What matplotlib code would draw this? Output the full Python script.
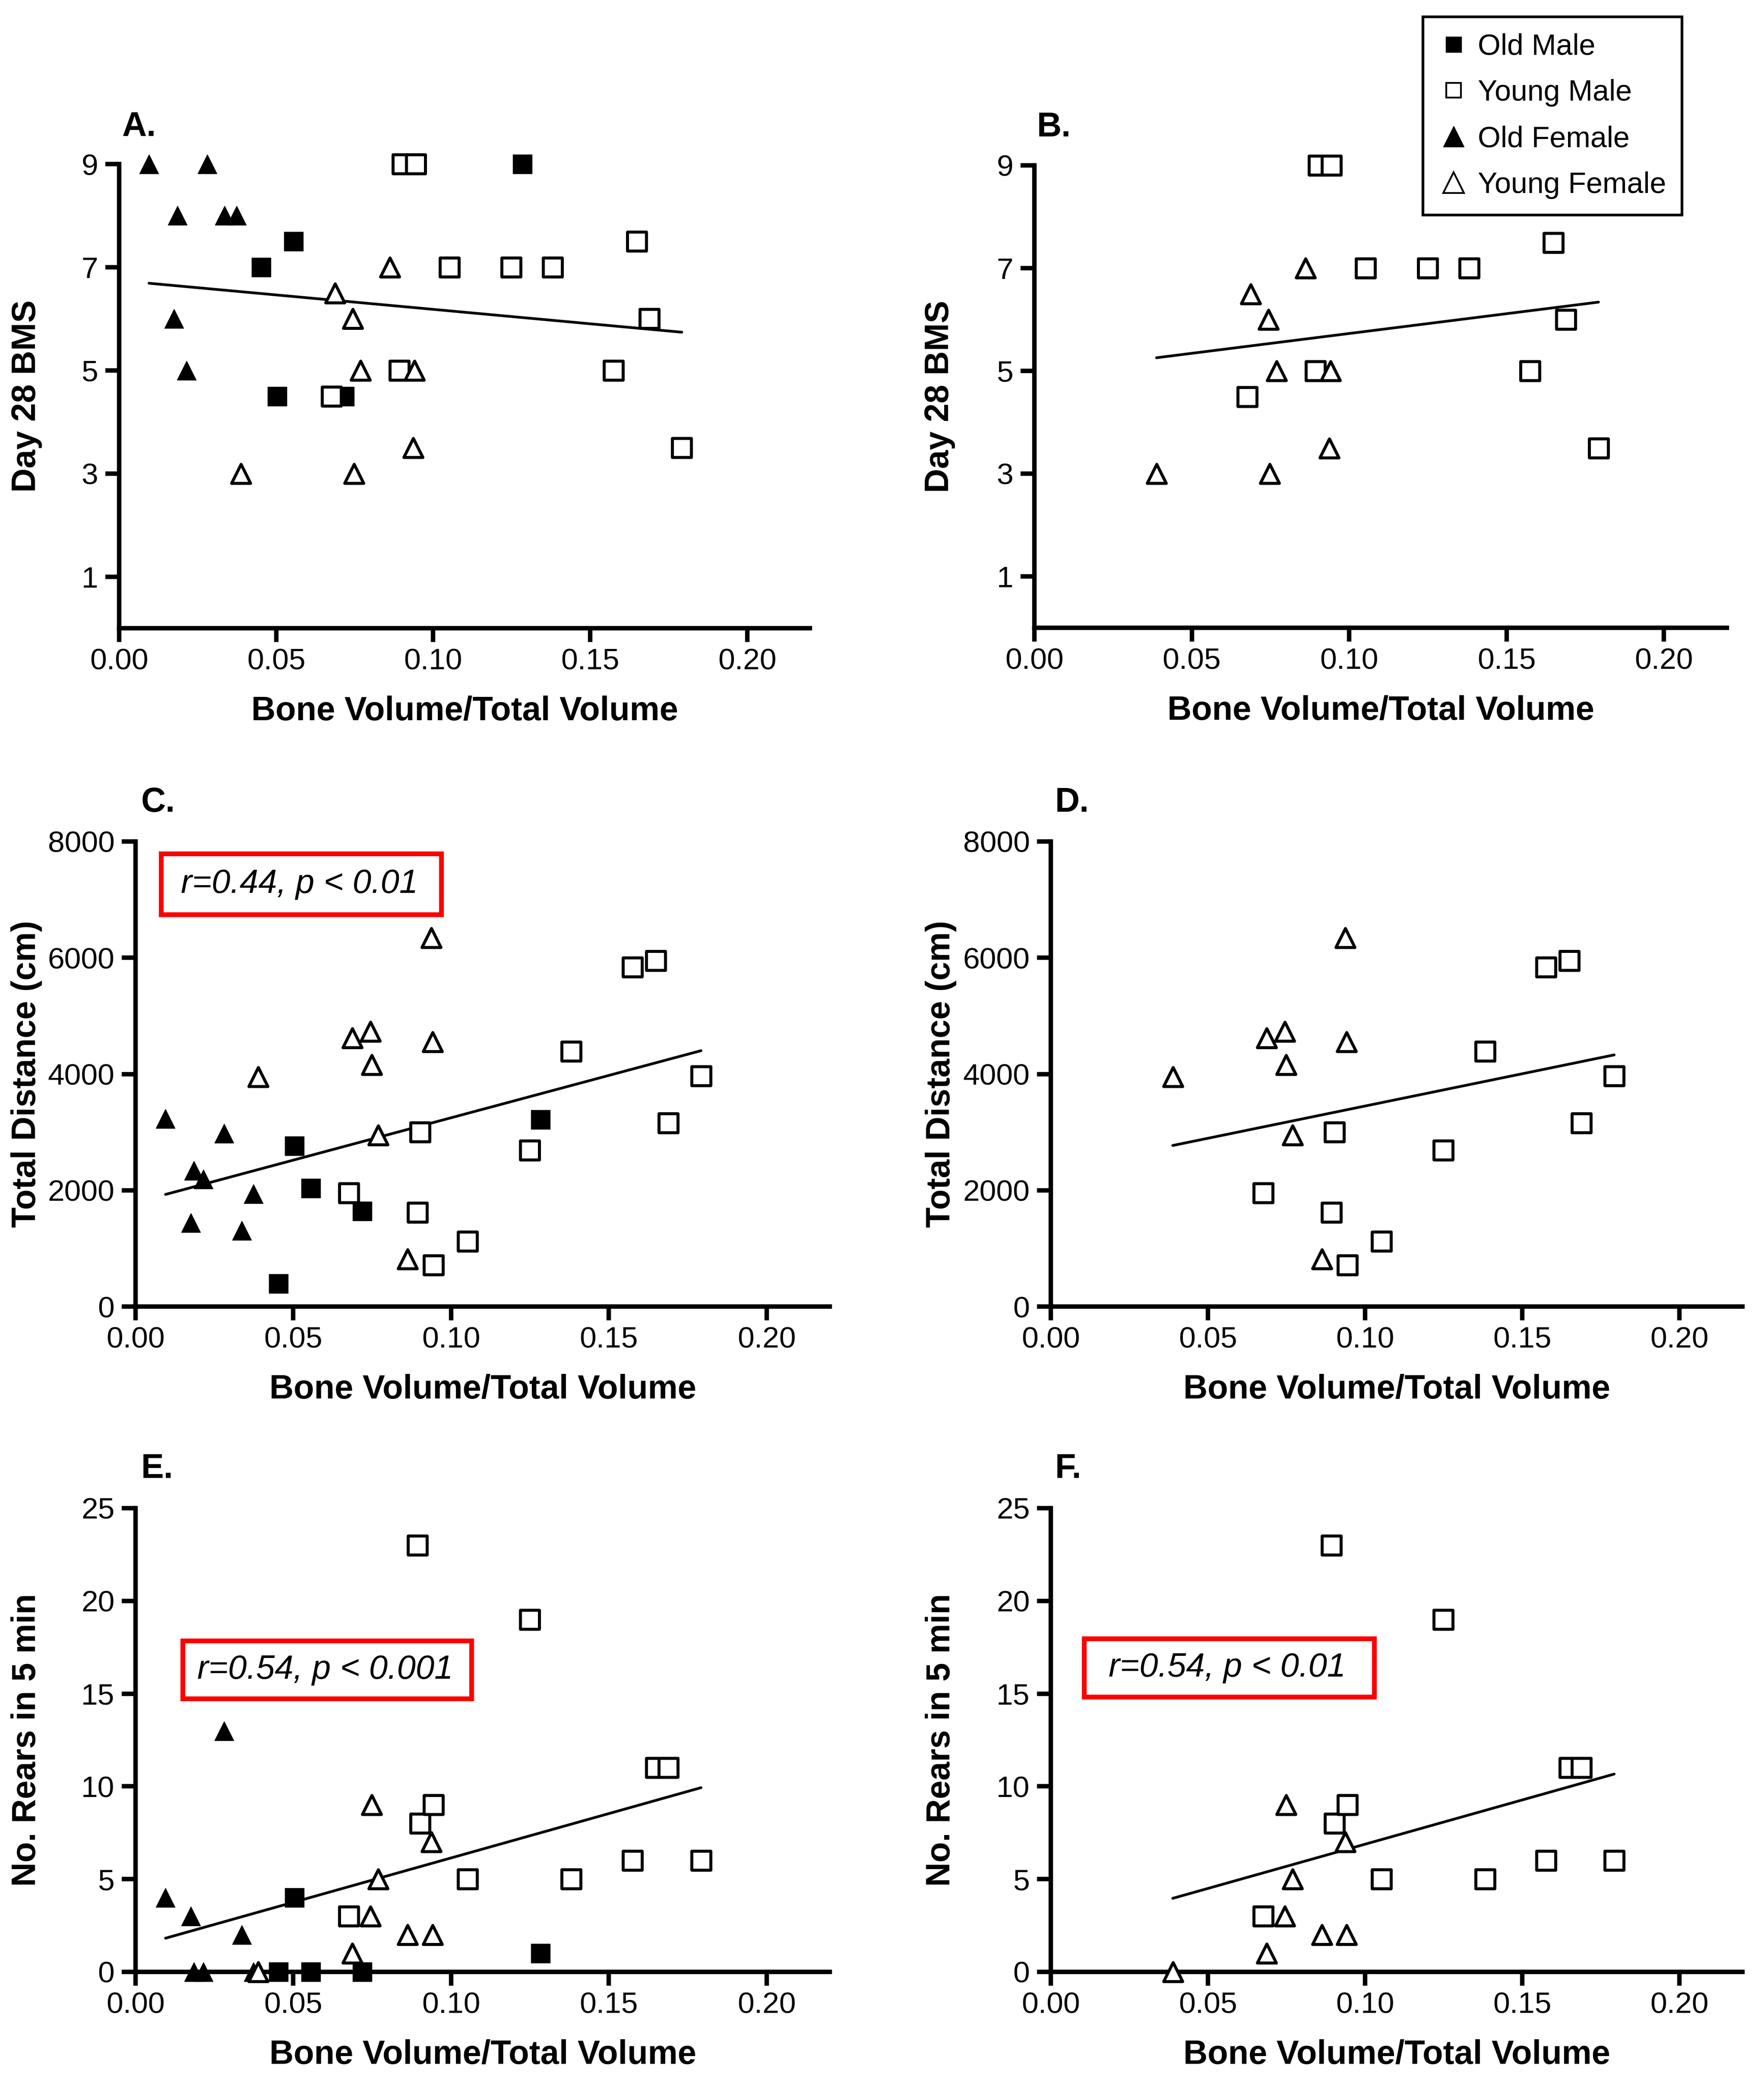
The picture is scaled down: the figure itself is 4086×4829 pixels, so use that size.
import matplotlib
matplotlib.use("Agg")
import matplotlib.pyplot as plt
import numpy as np
from matplotlib.lines import Line2D
from matplotlib.markers import MarkerStyle
from matplotlib.patches import Rectangle
from matplotlib.ticker import FormatStrFormatter

# ---- data ----
# bone volume / total volume for each animal, per group
om_bvtv = [0.0453, 0.0503, 0.0556, 0.0718, 0.1284]
ym_bvtv = [0.0676, 0.0893, 0.0902, 0.0944, 0.1052, 0.1249, 0.1381, 0.1575, 0.1649, 0.1688, 0.1792]
of_bvtv = [0.0095, 0.0175, 0.0185, 0.0215, 0.0281, 0.0336, 0.0374]
yf_bvtv = [0.0388, 0.0687, 0.0744, 0.0748, 0.0769, 0.0862, 0.0937, 0.0941]

# day 28 BMS
om_bms = [7, 4.5, 7.5, 4.5, 9]
ym_bms = [4.5, 5, 9, 9, 7, 7, 7, 5, 7.5, 6, 3.5]
of_bms = [9, 6, 8, 5, 9, 8, 8]
yf_bms = [3, 6.5, 6, 3, 5, 7, 3.5, 5]

# total distance (cm)
om_dist = [393, 2764, 2036, 1643, 3214]
ym_dist = [1950, 1620, 3000, 710, 1120, 2690, 4390, 5840, 5950, 3160, 3970]
of_dist = [3230, 1440, 2340, 2190, 2980, 1310, 1940]
yf_dist = [3950, 4620, 4730, 4160, 2950, 820, 6340, 4550]

# no. rears in 5 min
om_rears = [0, 4, 0, 0, 1]
ym_rears = [3, 23, 8, 9, 5, 19, 5, 6, 11, 11, 6]
of_rears = [4, 3, 0, 0, 13, 2, 0]
yf_rears = [0, 1, 3, 9, 5, 2, 7, 2]

group_labels = ["Old Male", "Young Male", "Old Female", "Young Female"]
x_ticks = [0.0, 0.05, 0.10, 0.15, 0.20]
bms_ticks = [1, 3, 5, 7, 9]
dist_ticks = [0, 2000, 4000, 6000, 8000]
rears_ticks = [0, 5, 10, 15, 20, 25]
stats_c = "r=0.44, p < 0.01"
stats_e = "r=0.54, p < 0.001"
stats_f = "r=0.54, p < 0.01"

# ---- styling ----
W, H = 4087, 4829
FONT = ["Liberation Sans", "DejaVu Sans"]
plt.rcParams["font.family"] = FONT

def mk(m):
    return MarkerStyle(m, joinstyle="round")

styles = [
    dict(marker=mk("s"), ms=31, mfc="black", mec="black", mew=1),   # old male
    dict(marker=mk("s"), ms=31, mfc="white", mec="black", mew=5),   # young male
    dict(marker=mk("^"), ms=31, mfc="black", mec="black", mew=1),   # old female
    dict(marker=mk("^"), ms=31, mfc="white", mec="black", mew=5),   # young female
]

fig = plt.figure(figsize=(W / 100, H / 100), dpi=100)


def add_axes_px(left, right, top, bottom):
    return fig.add_axes([left / W, 1 - bottom / H, (right - left) / W, (bottom - top) / H])


def draw_panel(ax, xs, ys, sty, yticks, ymax, ylabel, ylab_x):
    for x, y, s in zip(xs, ys, sty):
        ax.plot(x, y, linestyle="none", clip_on=False, zorder=4, **s)
    allx = np.concatenate([np.asarray(x, float) for x in xs])
    ally = np.concatenate([np.asarray(y, float) for y in ys])
    slope, icpt = np.polyfit(allx, ally, 1)
    fx = np.array([allx.min(), allx.max()])
    ax.plot(fx, slope * fx + icpt, color="black", lw=4.5, solid_capstyle="round", zorder=3)

    ax.set_xlim(0, 0.22)
    ax.set_ylim(0, ymax)
    ax.set_xticks(x_ticks)
    ax.set_yticks(yticks)
    ax.xaxis.set_major_formatter(FormatStrFormatter("%.2f"))
    for side in ["top", "right"]:
        ax.spines[side].set_visible(False)
    for side in ["left", "bottom"]:
        ax.spines[side].set_linewidth(7.5)
    ax.tick_params(direction="out", length=23, width=7.5, labelsize=50)
    ax.tick_params(axis="x", pad=10)
    ax.tick_params(axis="y", pad=12)
    ax.set_xlabel("Bone Volume/Total Volume", fontsize=56, fontweight="bold", labelpad=33)
    ax.set_ylabel(ylabel, fontsize=56, fontweight="bold")
    ax.yaxis.label.set_va("center")
    ax.yaxis.set_label_coords(ylab_x, 0.5)
    ax.set_facecolor("none")


all_x = [om_bvtv, ym_bvtv, of_bvtv, yf_bvtv]

axA = add_axes_px(276, 1876, 380, 1455)
draw_panel(axA, all_x, [om_bms, ym_bms, of_bms, yf_bms], styles, bms_ticks, 9,
           "Day 28 BMS", -0.134)
axB = add_axes_px(2396, 4000, 383, 1454)
draw_panel(axB, [ym_bvtv, yf_bvtv], [ym_bms, yf_bms], [styles[1], styles[3]], bms_ticks, 9,
           "Day 28 BMS", -0.137)

axC = add_axes_px(314, 1922, 1949, 3026)
draw_panel(axC, all_x, [om_dist, ym_dist, of_dist, yf_dist], styles, dist_ticks, 8000,
           "Total Distance (cm)", -0.157)
axD = add_axes_px(2434, 4036, 1949, 3026)
draw_panel(axD, [ym_bvtv, yf_bvtv], [ym_dist, yf_dist], [styles[1], styles[3]], dist_ticks, 8000,
           "Total Distance (cm)", -0.159)

axE = add_axes_px(314, 1922, 3493, 4567)
draw_panel(axE, all_x, [om_rears, ym_rears, of_rears, yf_rears], styles, rears_ticks, 25,
           "No. Rears in 5 min", -0.157)
axF = add_axes_px(2434, 4036, 3493, 4567)
draw_panel(axF, [ym_bvtv, yf_bvtv], [ym_rears, yf_rears], [styles[1], styles[3]], rears_ticks, 25,
           "No. Rears in 5 min", -0.159)

# panel letters
for letter, px, py in [("A.", 282, 315), ("B.", 2402, 316), ("C.", 327, 1880),
                       ("D.", 2444, 1880), ("E.", 327, 3423), ("F.", 2444, 3423)]:
    fig.text(px / W, 1 - py / H, letter, fontsize=57, fontweight="bold",
             ha="left", va="baseline")

# red stats boxes
for txt, (x0, x1, y0, y1) in [(stats_c, (373, 1022, 1977, 2118)),
                              (stats_e, (423, 1092, 3800, 3934)),
                              (stats_f, (2511, 3183, 3795, 3930))]:
    fig.add_artist(Rectangle((x0 / W, 1 - y1 / H), (x1 - x0) / W, (y1 - y0) / H,
                             transform=fig.transFigure, fill=False, edgecolor="#ff0000",
                             lw=8, joinstyle="miter"))
    fig.text((x0 + x1) / 2 / W - 4 / W, 1 - (y0 + y1) / 2 / H, txt, fontsize=56,
             style="italic", ha="center", va="center")

# legend
handles = [
    Line2D([], [], linestyle="none", marker="s", ms=26, mfc="black", mec="black", mew=1),
    Line2D([], [], linestyle="none", marker="s", ms=25, mfc="white", mec="black", mew=3),
    Line2D([], [], linestyle="none", marker="^", ms=35, mfc="black", mec="black", mew=1),
    Line2D([], [], linestyle="none", marker="^", ms=35, mfc="white", mec="black", mew=3),
]
leg = fig.legend(handles, group_labels, loc="upper left",
                 bbox_to_anchor=(3296 / W, 1 - 39 / H), borderaxespad=0,
                 frameon=True, fancybox=False, edgecolor="black", framealpha=1,
                 borderpad=0.55, labelspacing=0.63, handlelength=1.0, handletextpad=0.31,
                 prop={"size": 49})
leg.get_frame().set_linewidth(4.5)

fig.savefig("out.png", dpi=100)
